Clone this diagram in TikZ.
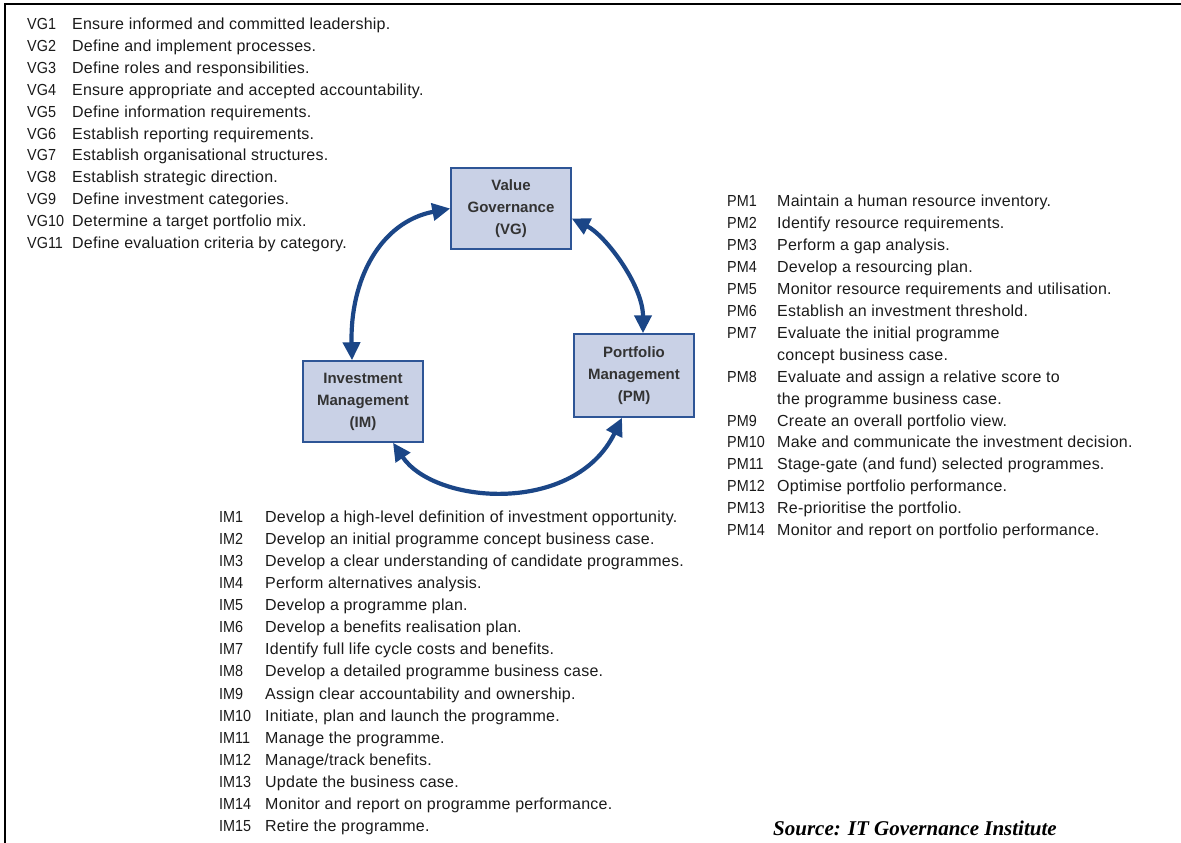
\documentclass[tikz,border=0pt]{standalone}
\usepackage{fontspec}
\setmainfont{Liberation Sans}
\newfontfamily\listfont[LetterSpace=1.5]{Liberation Sans}
\newfontfamily\labfont[FakeStretch=0.9]{Liberation Sans}
\newfontfamily\srcfont{Liberation Serif}
\usetikzlibrary{arrows.meta,calc}
\definecolor{boxfill}{HTML}{C9D1E6}
\definecolor{boxline}{HTML}{2E5596}
\definecolor{arrowc}{HTML}{1B4687}
\definecolor{txt}{HTML}{1A1A1A}
\begin{document}
\begin{tikzpicture}[x=1pt,y=-1pt,
  item/.style={anchor=base west, inner sep=0pt, font=\listfont\fontsize{16}{18}\selectfont, text=txt},
  lab/.style={anchor=base west, inner sep=0pt, font=\labfont\fontsize{16}{18}\selectfont, text=txt},
  box/.style={draw=boxline, line width=1.5pt, fill=boxfill, minimum width=120pt, inner sep=0pt, align=center, font=\bfseries\fontsize{15}{22}\selectfont, text=black!80},
  link/.style={draw=arrowc, line width=4.2pt, {Triangle[length=18pt,width=17pt]}-{Triangle[length=18pt,width=17pt]}}
]
\useasboundingbox (0,0) rectangle (1181,843);
% frame
\draw[line width=2pt] (5,843) -- (5,4) -- (735,4);
\draw[line width=2.4pt] (735,4) -- (1181,4);

% boxes
\node[box, minimum height=81pt] (vg) at (511,208.5) {Value\\Governance\\(VG)};
\node[box, minimum height=83pt] (pm) at (634,375.5) {Portfolio\\Management\\(PM)};
\node[box, minimum height=81pt] (im) at (363,401.5) {Investment\\Management\\(IM)};

% arrows
\draw[link] ($(im.north)+(-11,0)$) .. controls (350,280) and (380,222) .. (vg.west);
\draw[link] ($(vg.east)+(0,10)$) .. controls (605,235) and (643,285) .. ($(pm.north)+(9,0)$);
\draw[link] ($(im.south)+(30,0)$) .. controls (435,505) and (575,515) .. ($(pm.south)+(-12,0)$);

% VG list
\foreach \d [count=\i] in {
  Ensure informed and committed leadership.,
  Define and implement processes.,
  Define roles and responsibilities.,
  Ensure appropriate and accepted accountability.,
  Define information requirements.,
  Establish reporting requirements.,
  Establish organisational structures.,
  Establish strategic direction.,
  Define investment categories.,
  Determine a target portfolio mix.,
  Define evaluation criteria by category.}{
  \node[lab] (vgl\i) at (27,{29.5+21.9*(\i-1)}) {VG\i};
  \node[item] (vgd\i) at (72,{29.5+21.9*(\i-1)}) {\d};
}

% IM list
\foreach \d [count=\i] in {
  Develop a high-level definition of investment opportunity.,
  Develop an initial programme concept business case.,
  Develop a clear understanding of candidate programmes.,
  Perform alternatives analysis.,
  Develop a programme plan.,
  Develop a benefits realisation plan.,
  Identify full life cycle costs and benefits.,
  Develop a detailed programme business case.,
  Assign clear accountability and ownership.,
  {Initiate, plan and launch the programme.},
  Manage the programme.,
  Manage/track benefits.,
  Update the business case.,
  Monitor and report on programme performance.,
  Retire the programme.}{
  \node[lab] (iml\i) at (219,{522.5+22.07*(\i-1)}) {IM\i};
  \node[item] (imd\i) at (265,{522.5+22.07*(\i-1)}) {\d};
}

% PM list
\foreach \n/\k/\d in {
  1/0/Maintain a human resource inventory.,
  2/1/Identify resource requirements.,
  3/2/Perform a gap analysis.,
  4/3/Develop a resourcing plan.,
  5/4/Monitor resource requirements and utilisation.,
  6/5/Establish an investment threshold.,
  7/6/Evaluate the initial programme,
  8/8/Evaluate and assign a relative score to,
  9/10/Create an overall portfolio view.,
  10/11/Make and communicate the investment decision.,
  11/12/Stage-gate (and fund) selected programmes.,
  12/13/Optimise portfolio performance.,
  13/14/Re-prioritise the portfolio.,
  14/15/Monitor and report on portfolio performance.}{
  \node[lab] (pml\n) at (727,{206.5+21.95*\k}) {PM\n};
  \node[item] (pmd\n) at (777,{206.5+21.95*\k}) {\d};
}
\node[item] (pmd7b) at (777,{206.5+21.95*7}) {concept business case.};
\node[item] (pmd8b) at (777,{206.5+21.95*9}) {the programme business case.};

% source
\node[anchor=base west, inner sep=0pt, font=\srcfont\bfseries\itshape\fontsize{21}{24}\selectfont] (src) at (773,835) {Source: IT Governance Institute};
\end{tikzpicture}
\end{document}
